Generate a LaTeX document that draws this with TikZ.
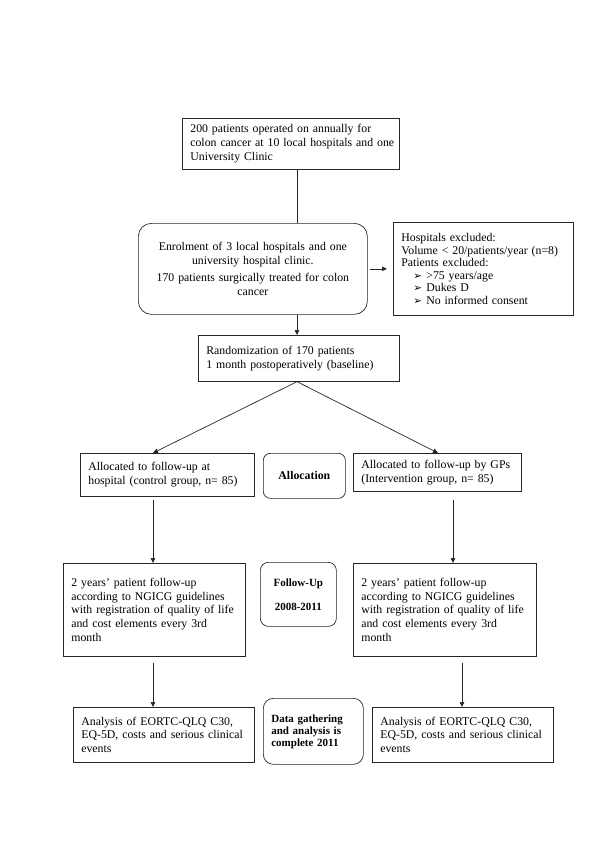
\documentclass[tikz,border=0pt]{standalone}
\usepackage{fontspec}
\setmainfont{Liberation Serif}
\newfontfamily\dvs{DejaVu Sans}
\usetikzlibrary{arrows.meta}
\newcommand\bodyfont{\fontsize{11.8}{13.8}\selectfont}
\newcommand\bul{{\dvs\fontsize{10.5}{10}\selectfont ➢}}
\begin{document}
\begin{tikzpicture}[x=1pt,y=-1pt,
  box/.style={draw=black!85, line width=0.7pt, inner xsep=8pt, inner ysep=0pt,
    align=left, anchor=north west, font=\bodyfont},
  rbox/.style={box, align=center, rounded corners=8pt},
  lab/.style={rbox, font=\bfseries\fontsize{11}{12}\selectfont},
  ln/.style={draw=black!85, line width=0.7pt},
  arr/.style={ln, -{Triangle[length=5pt,width=4.5pt]}}]
\fill[white] (0,0) rectangle (600,849);
\useasboundingbox (0,0) rectangle (600,849);

\node[box, text width=201pt, minimum height=51pt] (top) at (182,118)
  {\mbox{200 patients operated on annually for}\\\mbox{colon cancer at 10 local hospitals and one}\\\mbox{University Clinic}};
\node[rbox, rounded corners=13pt, text width=213pt, minimum height=91pt, font=\fontsize{11.8}{13.4}\selectfont] (enrol) at (138,223)
  {Enrolment of 3 local hospitals and one\\university hospital clinic.\\[4pt]170 patients surgically treated for colon\\cancer};
\node[box, text width=164pt, minimum height=93pt, font=\fontsize{11.8}{12.5}\selectfont] (excl) at (393,222)
  {Hospitals excluded:\\Volume < 20/patients/year (n=8)\\Patients excluded:\\
   \hspace*{12pt}\makebox[13pt][l]{\bul}>75 years/age\\
   \hspace*{12pt}\makebox[13pt][l]{\bul}Dukes D\\
   \hspace*{12pt}\makebox[13pt][l]{\bul}No informed consent};
\node[box, text width=185pt, minimum height=46pt] (rand) at (198,335)
  {Randomization of 170 patients\\1 month postoperatively (baseline)};

\node[box, text width=158pt, minimum height=43pt] (la) at (80,453)
  {Allocated to follow-up at\\hospital (control group, n= 85)};
\node[lab, rounded corners=7pt, text width=66pt, minimum height=45pt, font=\bfseries\fontsize{11.8}{13}\selectfont] (alab) at (263,453) {Allocation};
\node[box, text width=152pt, minimum height=38pt] (ra) at (353,453)
  {Allocated to follow-up by GPs\\(Intervention group, n= 85)};

\node[box, text width=166pt, minimum height=93pt] (lf) at (63,563)
  {2 years’ patient follow-up\\according to NGICG guidelines\\with registration of quality of life\\and cost elements every 3rd\\month};
\node[lab, text width=60pt, minimum height=64pt] (flab) at (260,562) {Follow-Up\\[12pt]2008-2011};
\node[box, text width=167pt, minimum height=93pt] (rf) at (353,563)
  {2 years’ patient follow-up\\according to NGICG guidelines\\with registration of quality of life\\and cost elements every 3rd\\month};

\node[box, text width=165pt, minimum height=55pt] (lan) at (73,707)
  {Analysis of EORTC-QLQ C30,\\EQ-5D, costs and serious clinical\\events};
\node[lab, align=left, rounded corners=10pt, text width=84pt, minimum height=66pt] (dlab) at (263,698)
  {Data gathering\\and analysis is\\complete 2011};
\node[box, text width=165pt, minimum height=55pt] (ran) at (372,707)
  {Analysis of EORTC-QLQ C30,\\EQ-5D, costs and serious clinical\\events};

\coordinate (cx) at (297,0);
\coordinate (lx) at (153,0);
\coordinate (rx1) at (438,0);
\coordinate (rx2) at (453,0);
\coordinate (rx3) at (462,0);

\draw[ln] (top.south -| cx) -- (enrol.north -| cx);
\draw[arr] (enrol.south -| cx) -- (rand.north -| cx);
\draw[arr, shorten <=2pt, shorten >=6pt] (enrol.east) -- (excl.west |- enrol.east);
\draw[arr] (rand.south -| cx) -- (la.north -| lx);
\draw[arr] (rand.south -| cx) -- (ra.north -| rx1);
\draw[arr, shorten <=3pt] (la.south -| lx) -- (lf.north -| lx);
\draw[arr, shorten <=8pt] (ra.south -| rx2) -- (rf.north -| rx2);
\draw[arr, shorten <=6pt] (lf.south -| lx) -- (lan.north -| lx);
\draw[arr, shorten <=6pt] (rf.south -| rx3) -- (ran.north -| rx3);
\end{tikzpicture}
\end{document}
